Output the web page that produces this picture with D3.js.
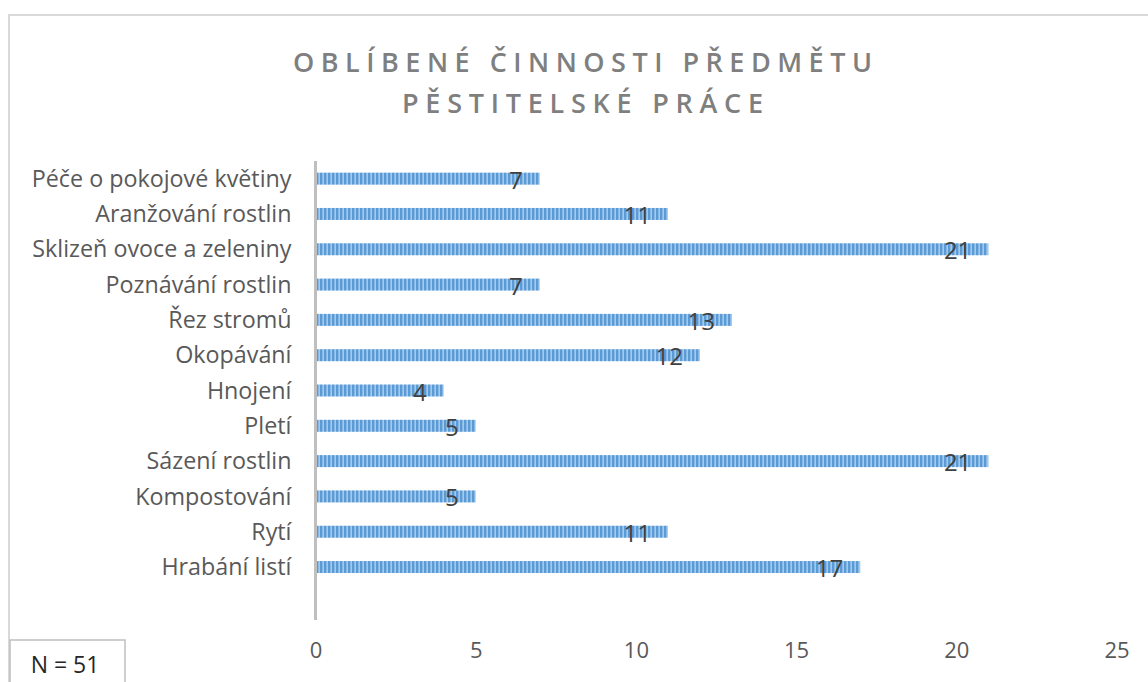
<!DOCTYPE html>
<html><head><meta charset="utf-8">
<script src="https://cdn.jsdelivr.net/npm/d3@7"></script>
<style>
html,body{margin:0;padding:0;background:#fff;}
svg{display:block;}
text{font-family:"Open Sans", sans-serif;}
</style></head>
<body>
<script>
const categories = ["Péče o pokojové květiny","Aranžování rostlin","Sklizeň ovoce a zeleniny","Poznávání rostlin","Řez stromů","Okopávání","Hnojení","Pletí","Sázení rostlin","Kompostování","Rytí","Hrabání listí"];
const values = [7,11,21,7,13,12,4,5,21,5,11,17];
const tickValues = [0,5,10,15,20,25];
const titleLines = ["OBLÍBENÉ ČINNOSTI PŘEDMĚTU","PĚSTITELSKÉ PRÁCE"];
const noteText = "N = 51";

const W = 1148, H = 682;
const svg = d3.select("body").append("svg").attr("width", W).attr("height", H);

const defs = svg.append("defs");
const pat = defs.append("pattern").attr("id","stripes").attr("patternUnits","userSpaceOnUse")
  .attr("width",4).attr("height",10);
pat.append("rect").attr("width",4).attr("height",10).attr("fill","#5b9bd5");
pat.append("rect").attr("x",2).attr("width",1).attr("height",10).attr("fill","#8ab8e4");
pat.append("rect").attr("x",3).attr("width",1).attr("height",10).attr("fill","#a6c9ea");

// outer chart border
svg.append("rect").attr("x",9).attr("y",15).attr("width",W+20).attr("height",H+20)
  .attr("fill","none").attr("stroke","#d9d9d9").attr("stroke-width",2);

// title
const titleY = [72,113], titleW = [579,361];
titleLines.forEach((t,i)=>{
  svg.append("text").attr("x",582.5).attr("y",titleY[i]).attr("text-anchor","middle")
    .attr("fill","#7f7f7f").attr("font-size",27).attr("font-weight",600)
    .attr("textLength",titleW[i]).attr("lengthAdjust","spacing").text(t);
});

const plotTop = 161, plotBottom = 620;
const step = (plotBottom - plotTop) / (categories.length + 1);
const x = d3.scaleLinear().domain([0,25]).range([315.5, 1116.5]);
const y = d3.scaleBand().domain(categories).range([plotTop, plotTop + step*categories.length]).paddingInner(0.66).paddingOuter(0.33);

// bars
svg.append("g").selectAll("rect").data(values).join("rect")
  .attr("x", x(0)).attr("y",(d,i)=>y(categories[i]))
  .attr("width", d=>x(d)-x(0)).attr("height", y.bandwidth())
  .attr("fill","url(#stripes)");

// y axis
const yAxis = svg.append("g").attr("transform",`translate(${x(0)},0)`)
  .call(d3.axisLeft(y).tickSize(0).tickPadding(24));
yAxis.select(".domain").remove();
yAxis.selectAll("text").attr("font-size",23.3).attr("fill","#595959").attr("dy","0.35em")
  .style("font-family","'Open Sans', sans-serif");
svg.append("line").attr("x1",x(0)).attr("x2",x(0)).attr("y1",plotTop).attr("y2",plotBottom)
  .attr("stroke","#bfbfbf").attr("stroke-width",3);

// x axis
const xAxis = svg.append("g").attr("transform",`translate(0,${plotBottom})`)
  .call(d3.axisBottom(x).tickValues(tickValues).tickSize(0).tickPadding(22));
xAxis.select(".domain").remove();
xAxis.selectAll("text").attr("font-size",22).attr("fill","#595959")
  .style("font-family","'Open Sans', sans-serif");

// data labels
svg.append("g").selectAll("text").data(values).join("text")
  .attr("x", d=>x(d)-17).attr("y",(d,i)=>y(categories[i])+y.bandwidth()/2+10)
  .attr("text-anchor","end").attr("font-size",24).attr("fill","#404040").text(d=>d);

// note box
svg.append("rect").attr("x",10).attr("y",640).attr("width",115).attr("height",60)
  .attr("fill","#fff").attr("stroke","#bfbfbf").attr("stroke-width",1.5);
svg.append("text").attr("x",65).attr("y",673).attr("text-anchor","middle")
  .attr("font-size",23).attr("fill","#262626").text(noteText);
</script>
</body></html>
